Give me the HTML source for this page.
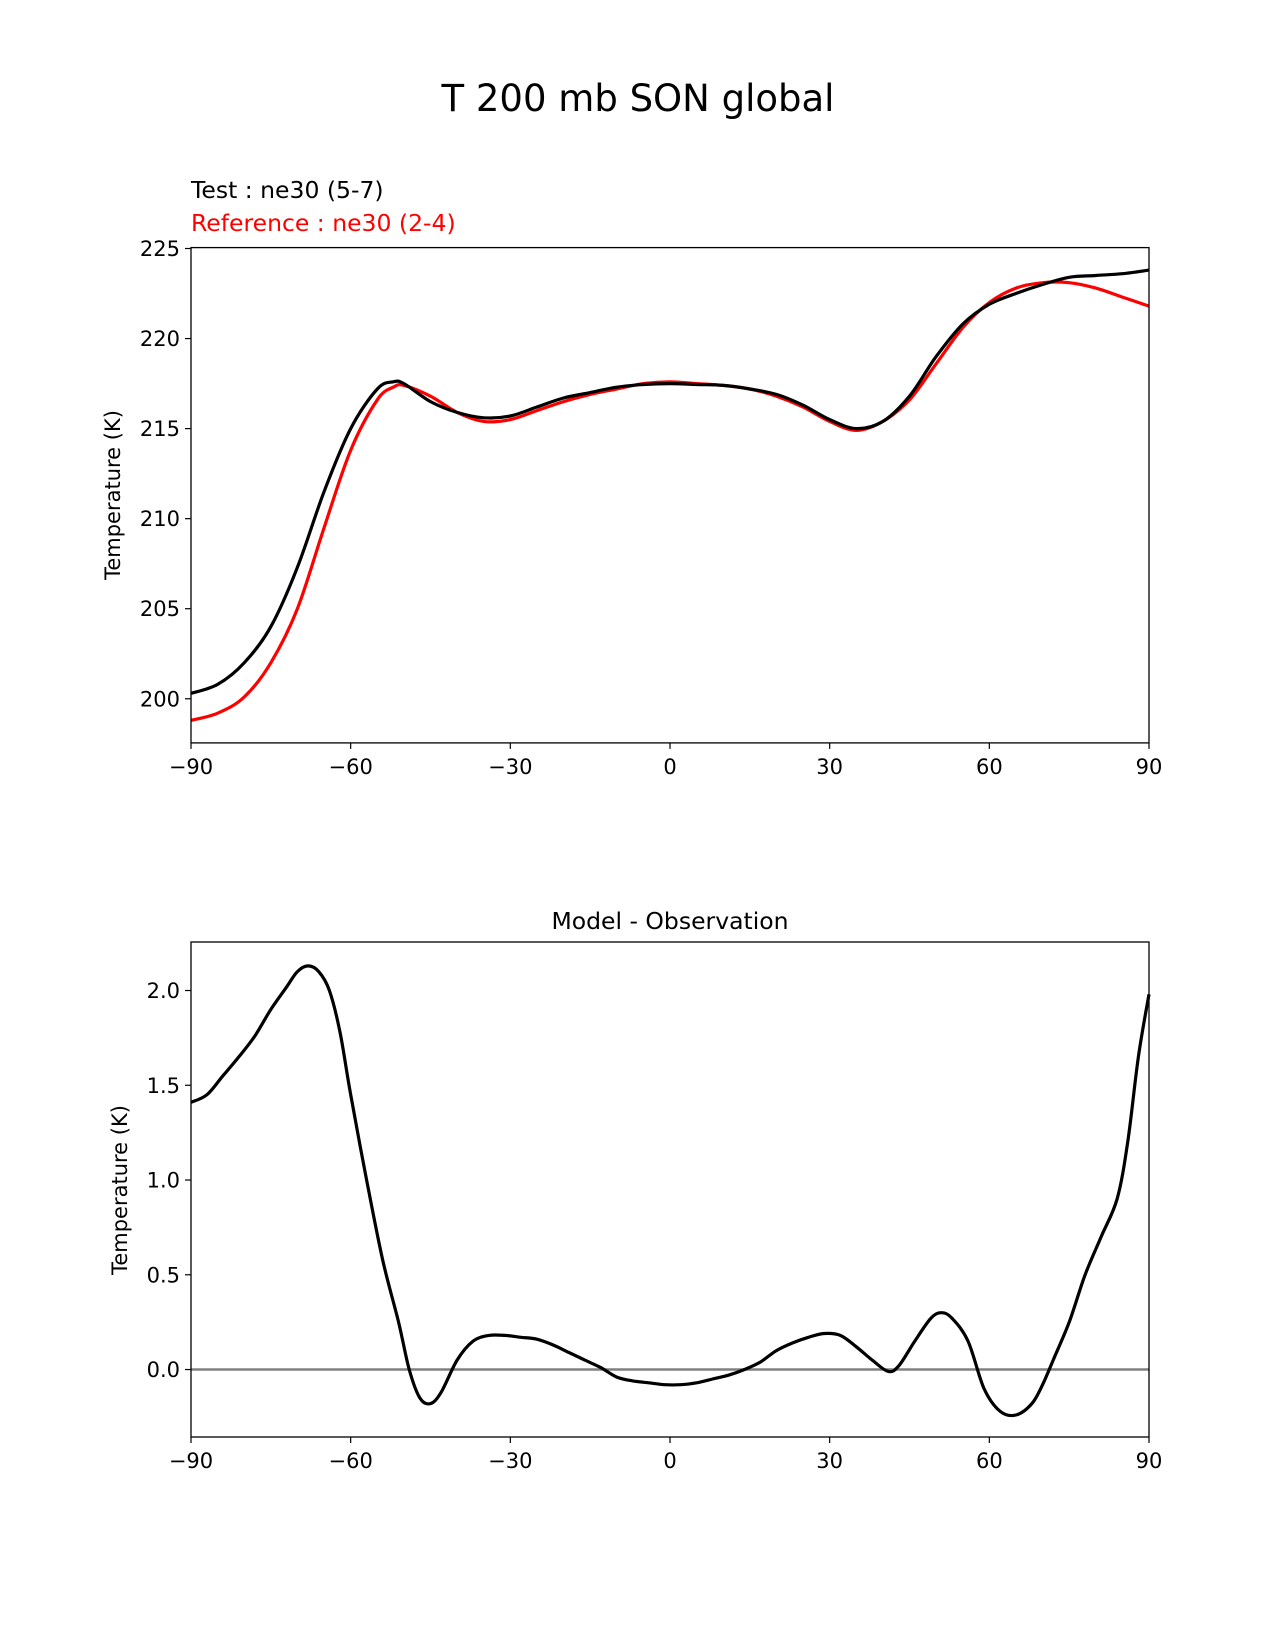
<!DOCTYPE html>
<html><head><meta charset="utf-8"><style>body{margin:0;background:#fff}svg{display:block;font-family:"DejaVu Sans","Liberation Sans",sans-serif}</style></head>
<body>
<svg id="fig" width="1275" height="1650" viewBox="0 0 1275 1650" xmlns="http://www.w3.org/2000/svg">
<text x="638" y="111" font-size="37" text-anchor="middle">T 200 mb SON global</text>
<text x="191" y="198" font-size="23.5">Test : ne30 (5-7)</text>
<text x="191" y="231" font-size="23.5" fill="red">Reference : ne30 (2-4)</text>
<text x="670" y="929" font-size="23.5" text-anchor="middle">Model - Observation</text>
<text transform="translate(120,495) rotate(-90)" font-size="21" text-anchor="middle">Temperature (K)</text>
<text transform="translate(127,1190) rotate(-90)" font-size="21" text-anchor="middle">Temperature (K)</text>
<g id="top"></g><g id="bot"></g>
</svg>
<script>
const lats=[-90,-85,-80,-75,-70,-65,-60,-55,-52,-50,-45,-40,-35,-30,-25,-20,-15,-10,-5,0,5,10,15,20,25,30,35,40,45,50,55,60,65,70,75,80,85,90];
const testVals=[200.3,200.8,202,204,207.3,211.5,215,217.2,217.6,217.5,216.5,215.9,215.6,215.7,216.2,216.7,217.0,217.3,217.45,217.5,217.45,217.4,217.2,216.9,216.3,215.5,215.0,215.4,216.8,219,220.8,221.9,222.5,223.0,223.4,223.5,223.6,223.8];
const refVals=[198.8,199.2,200.1,202,205,209.5,213.8,216.6,217.3,217.4,216.8,215.9,215.4,215.5,216.0,216.5,216.9,217.2,217.5,217.6,217.5,217.4,217.2,216.8,216.2,215.4,214.9,215.4,216.6,218.6,220.6,222.0,222.8,223.1,223.1,222.8,222.3,221.8];
const diffLats=[-90,-87,-84,-81,-78,-75,-72,-70,-68,-66,-64,-62,-60,-57,-54,-51,-49,-47,-45,-43,-40,-37,-34,-31,-28,-25,-22,-19,-16,-13,-10,-7,-4,-1,2,5,8,11,14,17,20,23,26,29,32,35,38,41,43,46,49,51,53,56,59,62,65,68,70,72,75,78,81,84,86,88,90];
const diffVals=[1.41,1.45,1.55,1.65,1.76,1.9,2.02,2.1,2.13,2.1,2.0,1.78,1.45,1.0,0.58,0.25,0.0,-0.15,-0.18,-0.12,0.05,0.15,0.18,0.18,0.17,0.16,0.13,0.09,0.05,0.01,-0.04,-0.06,-0.07,-0.08,-0.08,-0.07,-0.05,-0.03,0,0.04,0.1,0.14,0.17,0.19,0.18,0.12,0.05,-0.01,0.02,0.15,0.27,0.3,0.27,0.15,-0.1,-0.22,-0.24,-0.18,-0.08,0.05,0.25,0.5,0.7,0.9,1.2,1.65,1.98];
const xTicks=[-90,-60,-30,0,30,60,90];
const xTickLabels=["\u221290","\u221260","\u221230","0","30","60","90"];
const topYTicks=[200,205,210,215,220,225];
const botYTicks=[0,0.5,1,1.5,2];
const botYTickLabels=["0.0","0.5","1.0","1.5","2.0"];
const NS="http://www.w3.org/2000/svg";
function mk(p,t,a){const e=document.createElementNS(NS,t);for(const k in a)e.setAttribute(k,a[k]);p.appendChild(e);return e;}
function smooth(P){let d='M'+P[0][0].toFixed(1)+','+P[0][1].toFixed(1);
  for(let i=0;i<P.length-1;i++){const p0=P[Math.max(0,i-1)],p1=P[i],p2=P[i+1],p3=P[Math.min(P.length-1,i+2)];
    const c1=[p1[0]+(p2[0]-p0[0])/6,p1[1]+(p2[1]-p0[1])/6],c2=[p2[0]-(p3[0]-p1[0])/6,p2[1]-(p3[1]-p1[1])/6];
    d+='C'+c1.map(v=>v.toFixed(1)).join(',')+' '+c2.map(v=>v.toFixed(1)).join(',')+' '+p2.map(v=>v.toFixed(1)).join(',');}
  return d;}
function panel(g,top,bot,ymin,ymax,yticks,ylabels,series,zero){
  const L=191,R=1149;
  const sx=v=>L+(v+90)/180*(R-L), sy=v=>bot-(v-ymin)/(ymax-ymin)*(bot-top);
  if(zero){const z=mk(g,'line',{x1:L,x2:R,y1:sy(0),y2:sy(0),stroke:'#808080','stroke-width':2.5});
  
  }
  series.forEach(s=>{const d=smooth(s.x.map((v,i)=>[sx(v),sy(s.y[i])]));
    const p=mk(g,'path',{d:d,fill:'none',stroke:s.c,'stroke-width':3.2,'stroke-linejoin':'round'});
    
    });
  const f=mk(g,'rect',{x:L,y:top,width:R-L,height:bot-top,fill:'none',stroke:'#000','stroke-width':1.3});
  
  
  xTicks.forEach((v,i)=>{mk(g,'line',{x1:sx(v),x2:sx(v),y1:bot,y2:bot+6,stroke:'#000','stroke-width':1.2});
    const t=mk(g,'text',{x:sx(v),y:bot+31,'font-size':21,'text-anchor':'middle'});t.textContent=xTickLabels[i];
    
    });
  yticks.forEach((v,i)=>{mk(g,'line',{x1:L-6,x2:L,y1:sy(v),y2:sy(v),stroke:'#000','stroke-width':1.2});
    const t=mk(g,'text',{x:L-11,y:sy(v)+7.5,'font-size':21,'text-anchor':'end'});t.textContent=ylabels[i];
    
    });
}
panel(document.getElementById('top'),247.6,742.9,197.55,225.05,topYTicks,topYTicks.map(String),
  [{x:lats,y:refVals,c:'red',n:'reference-line'},{x:lats,y:testVals,c:'#000',n:'test-line'}],false);
panel(document.getElementById('bot'),942,1437,-0.356,2.256,botYTicks,botYTickLabels,
  [{x:diffLats,y:diffVals,c:'#000',n:'difference-line'}],true);
document.getElementById('top');
document.getElementById('top');
document.getElementById('bot');
document.getElementById('bot');
</script>
</body></html>
